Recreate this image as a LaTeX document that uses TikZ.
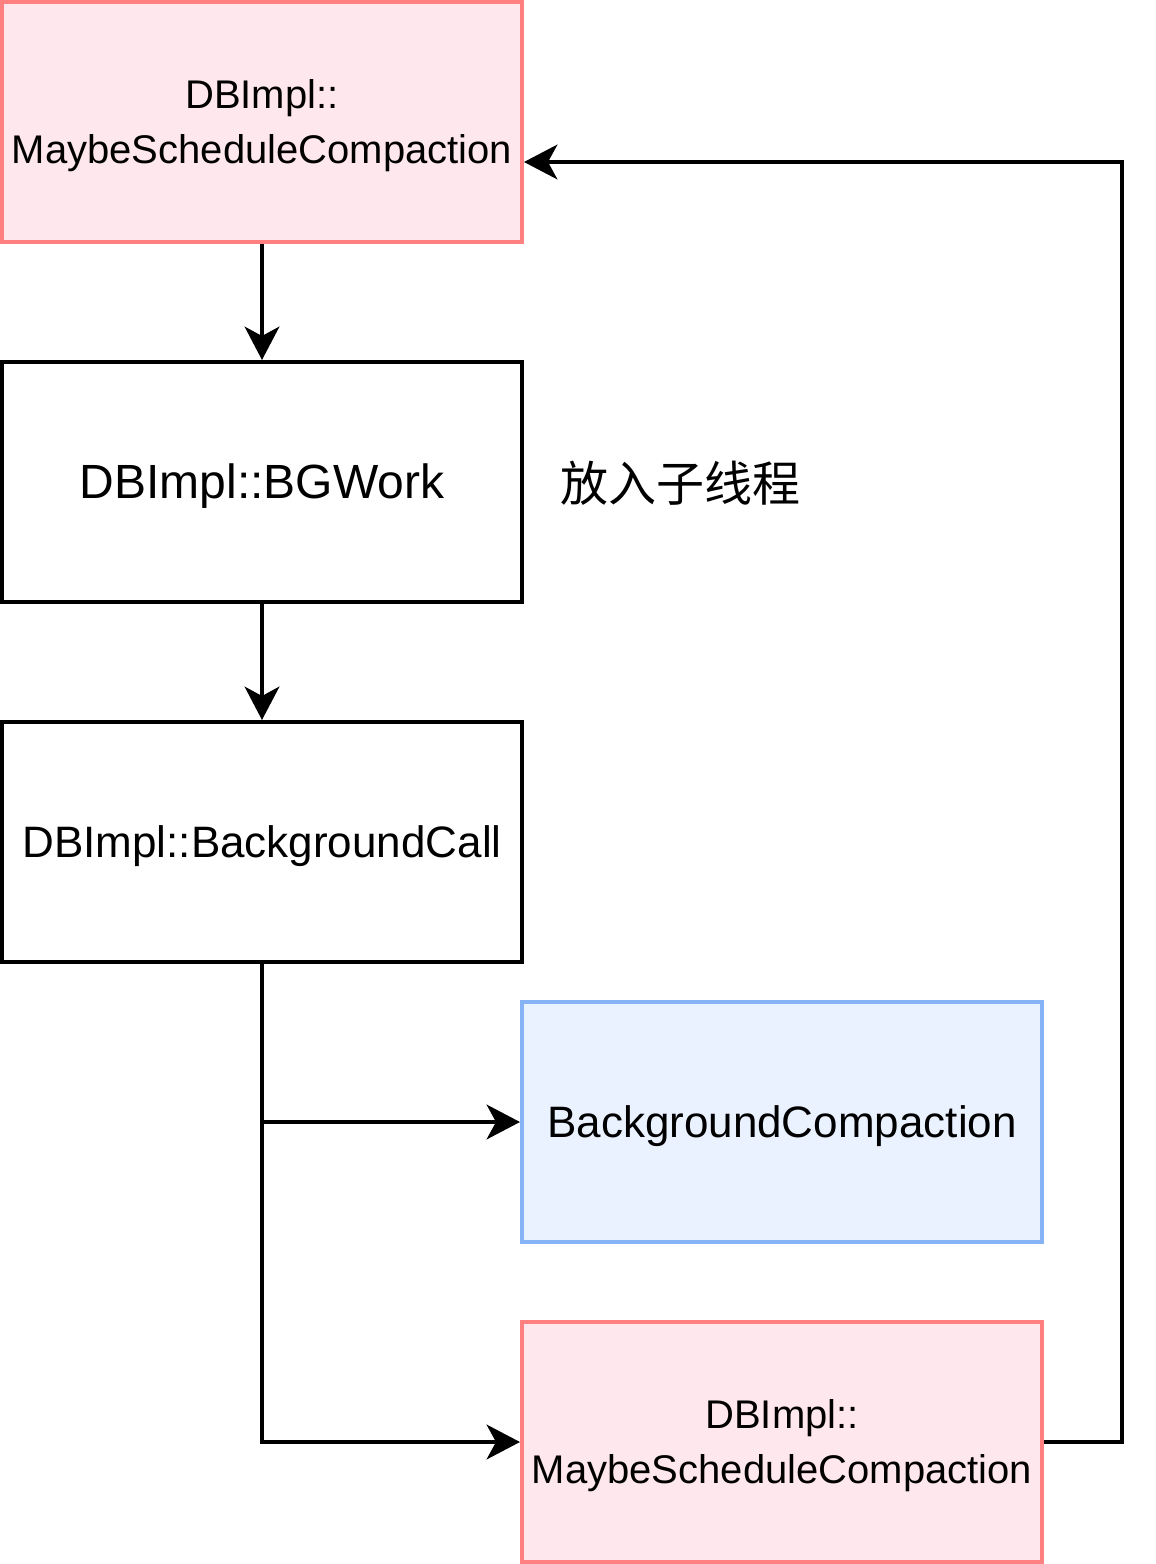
\documentclass[tikz,border=0pt]{standalone}
\usepackage{fontspec}
\setmainfont{Liberation Sans}
\newfontfamily\cjk{Noto Sans CJK SC}
\usetikzlibrary{arrows.meta}
\definecolor{pinkfill}{HTML}{FFE8ED}
\definecolor{pinkline}{HTML}{FF8080}
\definecolor{bluefill}{HTML}{EAF1FF}
\definecolor{blueline}{HTML}{86B3F5}
\tikzset{
  box/.style={draw=black, fill=white, line width=3pt, minimum width=390pt, minimum height=180pt, inner sep=0pt},
  pinkbox/.style={box, draw=pinkline, fill=pinkfill},
  bluebox/.style={box, draw=blueline, fill=bluefill},
  txt/.style={inner sep=0pt, align=center, yshift=-3pt, font=\fontsize{33}{41.25}\selectfont},
  twotxt/.style={txt, font=\fontsize{30}{41.25}\selectfont},
  conn/.style={line width=3pt, -{Stealth[length=25pt,width=26pt,inset=7pt]}}
}
\begin{document}
\begin{tikzpicture}[x=0.75pt,y=-0.75pt]
\useasboundingbox (0,0) rectangle (1156,1564);
\node[pinkbox] (a) at (262,122) {};
\node[box] (b) at (262,482) {};
\node[box] (c) at (262,842) {};
\node[bluebox] (d) at (782,1122) {};
\node[pinkbox] (e) at (782,1442) {};
\node[twotxt] (at) at (a.center) {DBImpl::\\MaybeScheduleCompaction};
\node[txt, font=\fontsize{36}{41.25}\selectfont] (bt) at (b.center) {DBImpl::BGWork};
\node[txt] (ct) at (c.center) {DBImpl::BackgroundCall};
\node[txt] (dt) at (d.center) {BackgroundCompaction};
\node[twotxt] (et) at (e.center) {DBImpl::\\MaybeScheduleCompaction};
\node[font=\cjk\fontsize{36}{41.25}\selectfont, inner sep=0pt] (lbl) at (680,483) {放入子线程};
\coordinate (j) at (c.south |- d.west);
\coordinate (r) at (1122,162);
\draw[conn] (a) -- (b);
\draw[conn] (b) -- (c);
\draw[conn] (c.south) |- (e.west);
\draw[conn] (j) -- (d.west);
\draw[conn] (e.east) -| (r) -- (a.east |- r);
\end{tikzpicture}
\end{document}
